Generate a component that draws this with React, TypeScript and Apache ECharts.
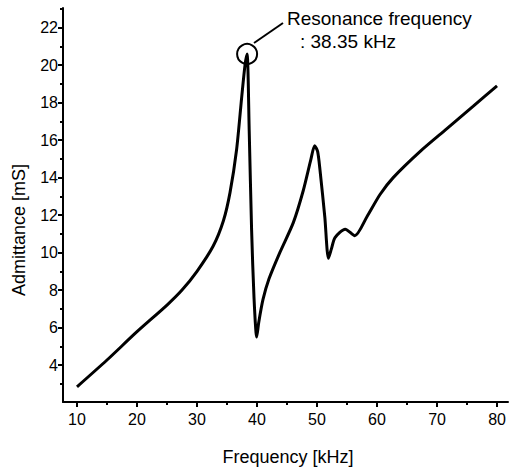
import React, { useEffect, useRef } from "react";
import * as echarts from "echarts";

const freq = [10, 15, 20, 25, 27.5, 30, 32.7, 34.4, 35.5, 36.6, 37.45, 38.0, 38.35, 38.7, 39.1, 39.5, 39.95, 40.3, 41.0, 42.0, 43.8, 46.05, 47.7, 49.0, 49.6, 50.1, 50.5, 51.3, 51.9, 52.4, 53, 54.7, 56.3, 58.3, 60.5, 62.7, 67.2, 71.6, 76, 80];
const admittance = [2.84, 4.27, 5.78, 7.2, 8.0, 9.0, 10.35, 11.7, 13.2, 15.5, 18.3, 20.0, 20.6, 16.5, 11.2, 7.6, 5.5, 6.3, 7.5, 8.6, 10.0, 11.6, 13.3, 15.0, 15.7, 15.4, 14.4, 11.9, 9.7, 10.2, 10.8, 11.25, 10.9, 11.9, 13.1, 14.0, 15.4, 16.6, 17.8, 18.9];
const xMajor = [10, 20, 30, 40, 50, 60, 70, 80];
const xMinor = [15, 25, 35, 45, 55, 65, 75];
const yMajor = [4, 6, 8, 10, 12, 14, 16, 18, 20, 22];
const yMinor = [3, 5, 7, 9, 11, 13, 15, 17, 19, 21, 23];
const resonance = { freq: 38.35, value: 20.6, label: ": 38.35 kHz", title: "Resonance frequency" };

const FONT = "'Liberation Sans', Arial, sans-serif";

export default function App() {
  const ref = useRef<HTMLDivElement>(null);
  useEffect(() => {
    if (!ref.current) return;
    const chart = echarts.init(ref.current, null, { renderer: "svg" });
    const xRange = { min: 7.667, max: 81.83 };
    const yRange = { min: 2.03, max: 23.05 };
    const axisLine = { show: true, lineStyle: { color: "#000", width: 2 } };
    chart.setOption({
      animation: false,
      backgroundColor: "#fff",
      grid: { left: 63, top: 8, right: 1, bottom: 72, containLabel: false },
      xAxis: [
        {
          type: "value", ...xRange, position: "bottom",
          axisLine,
          axisTick: { show: true, customValues: xMajor, length: 5, lineStyle: { color: "#000", width: 2 } },
          axisLabel: { show: true, customValues: xMajor, color: "#000", fontSize: 16, fontFamily: FONT, margin: 9 },
          splitLine: { show: false },
        },
        {
          type: "value", ...xRange, position: "bottom",
          axisLine: { show: false },
          axisTick: { show: true, customValues: xMinor, length: 3, lineStyle: { color: "#000", width: 2 } },
          axisLabel: { show: false },
          splitLine: { show: false },
        },
      ],
      yAxis: [
        {
          type: "value", ...yRange, position: "left",
          axisLine,
          axisTick: { show: true, customValues: yMajor, length: 5, lineStyle: { color: "#000", width: 2 } },
          axisLabel: { show: true, customValues: yMajor, color: "#000", fontSize: 16, fontFamily: FONT, margin: 5 },
          splitLine: { show: false },
        },
        {
          type: "value", ...yRange, position: "left",
          axisLine: { show: false },
          axisTick: { show: true, customValues: yMinor, length: 3, lineStyle: { color: "#000", width: 2 } },
          axisLabel: { show: false },
          splitLine: { show: false },
        },
      ],
      series: [
        {
          type: "line",
          xAxisIndex: 0,
          yAxisIndex: 0,
          data: freq.map((f, i) => [f, admittance[i]]),
          showSymbol: false,
          smooth: 0.25,
          lineStyle: { color: "#000", width: 3 },
          markPoint: {
            symbol: "circle",
            symbolSize: 20,
            itemStyle: { color: "rgba(255,255,255,0)", borderColor: "#000", borderWidth: 2 },
            label: { show: false },
            data: [{ coord: [resonance.freq, resonance.value] }],
          },
        },
      ],
      graphic: [
        { type: "line", shape: { x1: 254, y1: 43, x2: 283, y2: 23 }, style: { stroke: "#000", lineWidth: 2 } },
        { type: "text", x: 287, y: 18, style: { text: resonance.title, fill: "#000", font: `19px ${FONT}`, textVerticalAlign: "middle", textAlign: "left" } },
        { type: "text", x: 300, y: 41, style: { text: resonance.label, fill: "#000", font: `19px ${FONT}`, textVerticalAlign: "middle", textAlign: "left" } },
        { type: "text", x: 288, y: 457, style: { text: "Frequency [kHz]", fill: "#000", font: `18px ${FONT}`, textVerticalAlign: "middle", textAlign: "center" } },
        { type: "text", x: 19, y: 230, rotation: Math.PI / 2, style: { text: "Admittance [mS]", fill: "#000", font: `18px ${FONT}`, textVerticalAlign: "middle", textAlign: "center" } },
      ],
    });
    return () => chart.dispose();
  }, []);
  return <div ref={ref} style={{ position: "fixed", left: 0, top: 0, width: 509, height: 474 }} />;
}
